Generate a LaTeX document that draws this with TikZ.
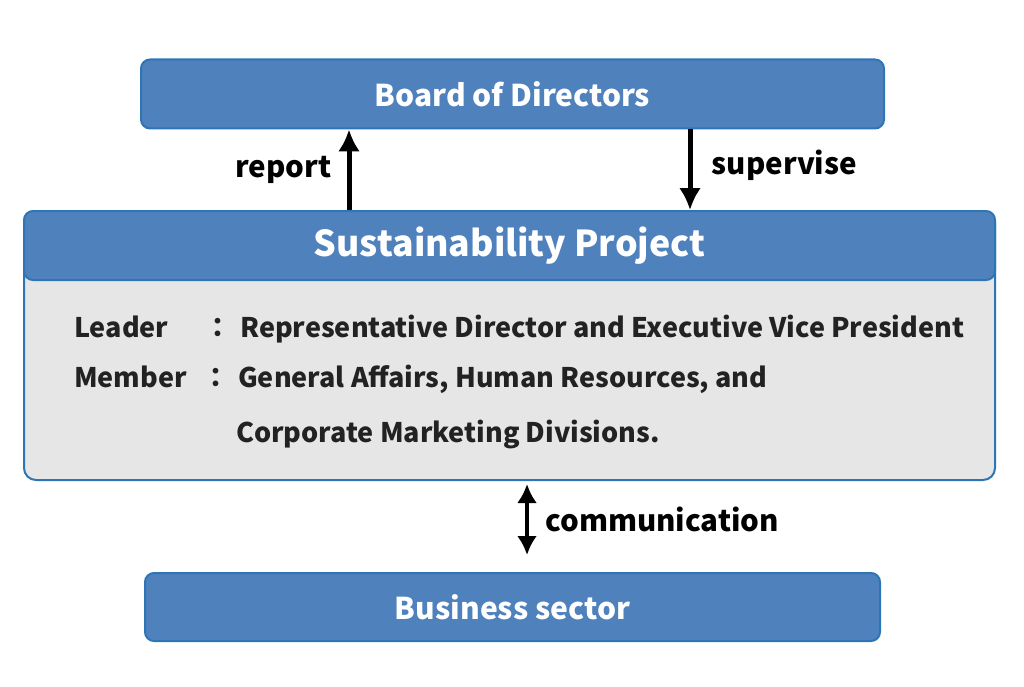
\documentclass[tikz,border=0pt]{standalone}
\usepackage{fontspec}
\setmainfont{Noto Sans CJK JP}
\usetikzlibrary{shapes,arrows,arrows.meta,positioning}
\definecolor{boxblue}{RGB}{79,129,189}
\definecolor{boxedge}{RGB}{46,117,182}
\definecolor{bodygray}{RGB}{231,230,230}
\definecolor{textdark}{RGB}{34,34,34}
\tikzstyle{block} = [rectangle, draw=boxedge, fill=boxblue, line width=2pt,
    rounded corners=9pt, text=white, font=\bfseries\fontsize{30}{31}\selectfont]
\tikzstyle{panel} = [rectangle, draw=boxedge, fill=bodygray, line width=2pt,
    rounded corners=12pt]
\tikzstyle{line} = [draw, -{Latex[length=22pt,width=22pt]}, line width=5pt]
\tikzstyle{twoway} = [draw, {Latex[length=19pt,width=20pt]}-{Latex[length=19pt,width=20pt]}, line width=4pt]
\tikzstyle{tag} = [font=\bfseries\fontsize{29.5}{30}\selectfont, text=black]
\tikzstyle{entry} = [anchor=base west, inner sep=0pt, text=textdark,
    font=\bfseries\fontsize{27}{30}\selectfont]

\begin{document}
\begin{tikzpicture}[x=1pt, y=-1pt]
	    \useasboundingbox (0,0) rectangle (1024,687);
	    % Place nodes
	    \node [block, minimum width=743pt, minimum height=69pt] (board) at (512.5,94) {Board of Directors};
	    \node [panel, minimum width=971pt, minimum height=269pt] (project) at (509.5,345.5) {};
	    \node [block, minimum width=971pt, minimum height=69pt,
	        font=\bfseries\fontsize{35.7}{36}\selectfont] (title) at (509.5,245.5) {Sustainability Project};
	    \node [block, minimum width=735pt, minimum height=68pt] (business) at (512.5,607) {Business sector};
	    \node [entry] (leader) at (74,337) {Leader};
	    \node [entry] (leadercolon) at (204,337) {：};
	    \node [entry] (leadertext) at (240,337) {Representative Director and Executive Vice President};
	    \node [entry] (member) at (74,387) {Member};
	    \node [entry] (membercolon) at (202,387) {：};
	    \node [entry] (membertext) at (238,387) {General Affairs, Human Resources, and};
	    \node [entry] (membertextb) at (236,442) {Corporate Marketing Divisions.};
	    \coordinate (reportx) at (349,0);
	    \coordinate (supervisex) at (690,0);
	    \coordinate (commx) at (527,0);
	    % Draw edges
	    \path [line] (title.north -| reportx) -- node [tag, left=12pt] {report} (board.south -| reportx);
	    \path [line] (board.south -| supervisex) -- node [tag, right=16pt, yshift=4pt] {supervise} (title.north -| supervisex);
	    \path [twoway, shorten <=3pt, shorten >=17pt] (project.south -| commx)
	        -- node [tag, right=13pt, yshift=7pt] {communication} (business.north -| commx);
\end{tikzpicture}
\end{document}
